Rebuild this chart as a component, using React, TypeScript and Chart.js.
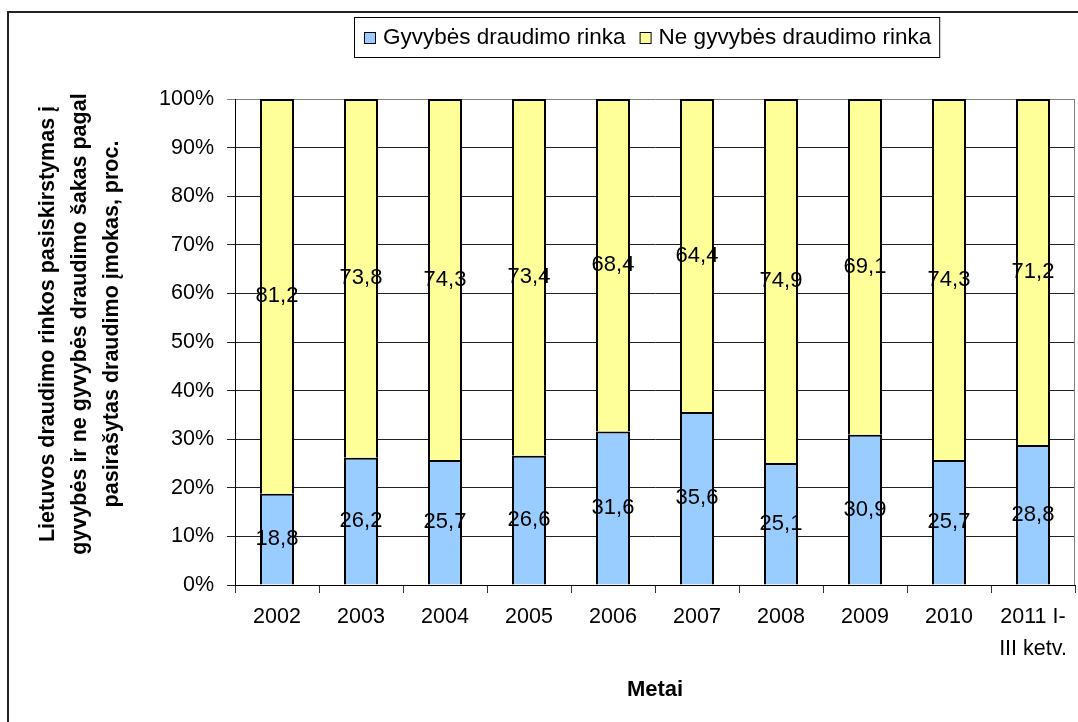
import React, { useEffect, useRef } from "react";
import { Chart, registerables } from "chart.js";

Chart.register(...registerables);

const categories: (string | string[])[] = [
  "2002", "2003", "2004", "2005", "2006", "2007", "2008", "2009", "2010", ["2011 I-", "III ketv."],
];
const lifeMarket = [18.8, 26.2, 25.7, 26.6, 31.6, 35.6, 25.1, 30.9, 25.7, 28.8];
const nonLifeMarket = [81.2, 73.8, 74.3, 73.4, 68.4, 64.4, 74.9, 69.1, 74.3, 71.2];
const seriesNames = ["Gyvybės draudimo rinka", "Ne gyvybės draudimo rinka"];
const yTitleLines = [
  "Lietuvos draudimo rinkos pasiskirstymas į",
  "gyvybės ir ne gyvybės draudimo šakas pagal",
  "pasirašytas draudimo įmokas, proc.",
];
const xTitle = "Metai";

const FONT = '"Liberation Sans", Arial, sans-serif';

const decorPlugin = {
  id: "decor",
  beforeDraw(chart: any) {
    const ctx = chart.ctx;
    ctx.save();
    ctx.fillStyle = "#fff";
    ctx.fillRect(0, 0, chart.width, chart.height);
    ctx.strokeStyle = "#222";
    ctx.lineWidth = 2;
    ctx.beginPath();
    ctx.moveTo(8, chart.height + 5);
    ctx.lineTo(8, 12);
    ctx.lineTo(chart.width + 5, 12);
    ctx.stroke();
    ctx.restore();
  },
  afterDraw(chart: any) {
    const ctx = chart.ctx;
    const area = chart.chartArea;
    ctx.save();
    ctx.strokeStyle = "#808080";
    ctx.lineWidth = 1;
    ctx.beginPath();
    const rx = Math.round(area.right) - 0.5;
    ctx.moveTo(rx, Math.round(area.top) + 0.5);
    ctx.lineTo(rx, Math.round(area.bottom));
    ctx.stroke();

    ctx.fillStyle = "#000";
    ctx.font = `bold 21.5px ${FONT}`;
    ctx.textAlign = "center";
    ctx.textBaseline = "middle";
    const xs = [48, 80, 112];
    yTitleLines.forEach((line, i) => {
      ctx.save();
      ctx.translate(xs[i], 324);
      ctx.rotate(-Math.PI / 2);
      ctx.fillText(line, 0, 0);
      ctx.restore();
    });

    ctx.font = `22.5px ${FONT}`;
    ctx.textAlign = "left";
    const boxLeft = 354;
    const boxTop = 17;
    const boxHeight = 40;
    const midY = boxTop + boxHeight / 2;
    let x = boxLeft + 10;
    chart.data.datasets.forEach((ds: any, i: number) => {
      ctx.fillStyle = ds.backgroundColor;
      ctx.fillRect(x, midY - 5, 11, 11);
      ctx.strokeStyle = "#000";
      ctx.lineWidth = 1;
      ctx.strokeRect(x + 0.5, midY - 5 + 0.5, 11, 11);
      x += 11 + 8;
      ctx.fillStyle = "#000";
      ctx.fillText(ds.label, x, midY + 1);
      x += ctx.measureText(ds.label).width;
      if (i === 0) x += 14;
    });
    const boxRight = x + 8;
    ctx.strokeStyle = "#000";
    ctx.lineWidth = 1;
    ctx.strokeRect(boxLeft + 0.5, boxTop + 0.5, boxRight - boxLeft, boxHeight);
    ctx.restore();
  },
  afterDatasetsDraw(chart: any) {
    const ctx = chart.ctx;
    ctx.save();
    ctx.fillStyle = "#000";
    ctx.font = `22px ${FONT}`;
    ctx.textAlign = "center";
    ctx.textBaseline = "middle";
    chart.data.datasets.forEach((ds: any, di: number) => {
      const meta = chart.getDatasetMeta(di);
      meta.data.forEach((el: any, i: number) => {
        const p = el.getCenterPoint();
        const v = ds.data[i] as number;
        ctx.fillText(v.toFixed(1).replace(".", ","), p.x, p.y);
      });
    });
    ctx.restore();
  },
};

export default function App() {
  const ref = useRef<HTMLCanvasElement | null>(null);
  useEffect(() => {
    if (!ref.current) return;
    const chart = new Chart(ref.current, {
      type: "bar",
      data: {
        labels: categories,
        datasets: [
          {
            label: seriesNames[0],
            data: lifeMarket,
            backgroundColor: "#99CCFF",
            borderColor: "#000",
            borderWidth: 2,
            borderSkipped: "start",
            barPercentage: 0.405,
            categoryPercentage: 1,
          },
          {
            label: seriesNames[1],
            data: nonLifeMarket,
            backgroundColor: "#FFFF99",
            borderColor: "#000",
            borderWidth: 2,
            borderSkipped: "start",
            barPercentage: 0.405,
            categoryPercentage: 1,
          },
        ],
      },
      options: {
        responsive: false,
        devicePixelRatio: 1,
        animation: false,
        layout: { padding: { left: 0, right: 3, top: 99, bottom: 0 } },
        plugins: {
          legend: { display: false },
          tooltip: { enabled: false },
          title: { display: false },
        },
        scales: {
          x: {
            stacked: true,
            afterFit: (scale: any) => {
              scale.height = 137;
            },
            grid: {
              display: true,
              drawOnChartArea: false,
              drawTicks: true,
              tickLength: 8,
              color: "#333",
              offset: true,
            },
            border: { display: true, color: "#000", width: 1 },
            ticks: {
              color: "#000",
              padding: 8,
              font: { family: FONT, size: 21.5, lineHeight: 1.49 },
              maxRotation: 0,
              autoSkip: false,
            },
            title: {
              display: true,
              text: xTitle,
              color: "#000",
              font: { family: FONT, size: 22, weight: "bold", lineHeight: 1.2 },
              padding: { top: 0, bottom: 19 },
            },
          },
          y: {
            stacked: true,
            min: 0,
            max: 100,
            afterFit: (scale: any) => {
              scale.width = 235;
            },
            grid: {
              color: (c: any) => (c.tick && c.tick.value === 100 ? "#808080" : "#222"),
              tickLength: 8,
              drawTicks: true,
            },
            border: { display: true, color: "#000", width: 1 },
            ticks: {
              stepSize: 10,
              color: "#000",
              padding: 13,
              font: { family: FONT, size: 21.5 },
              callback: (v: any) => `${v}%`,
            },
          },
        },
      },
      plugins: [decorPlugin],
    });
    return () => chart.destroy();
  }, []);
  return (
    <div style={{ position: "fixed", left: 0, top: 0, width: 1078, height: 722, background: "#fff" }}>
      <canvas ref={ref} width={1078} height={722} style={{ display: "block" }} />
    </div>
  );
}
